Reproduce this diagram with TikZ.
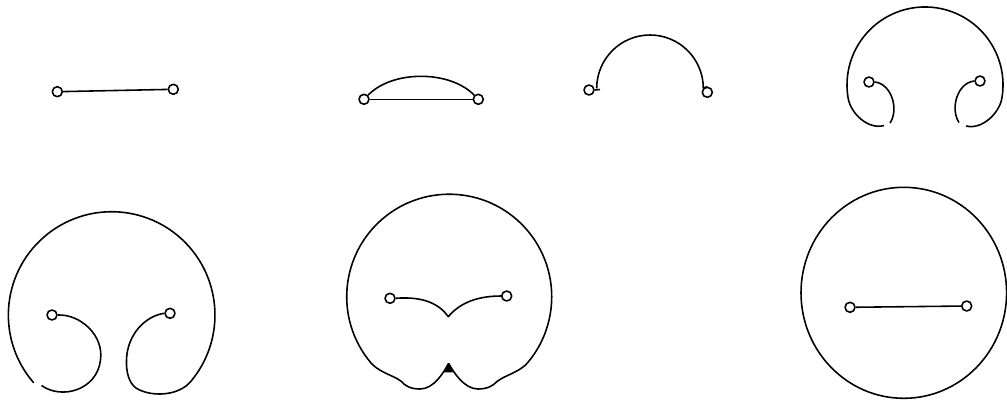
\documentclass[tikz,border=0pt]{standalone}
\usepackage{tikz}
\usetikzlibrary{calc,positioning}
\tikzset{endpt/.style={circle,draw,fill=white,minimum size=0.2cm,inner sep=0pt}}
\begin{document}
\begin{tikzpicture}[x=0.02cm,y=-0.02cm,line width=0.9pt,line join=round]
\useasboundingbox (0,0) rectangle (1007,403);
% first row
\node[endpt] (A1) at (57.3,91.7) {};
\node[endpt] (B1) at (173.3,89.3) {};
\draw (A1) -- (B1);
\node[endpt] (A2) at (364,99.3) {};
\node[endpt] (B2) at (478.3,99.3) {};
\draw (A2) -- (B2);
\draw (A2.north east) .. controls (392,70) and (450,70) .. (B2.north west);
\node[endpt] (A3) at (589,90) {};
\node[endpt] (B3) at (707.3,92.3) {};
\draw (A3.east) -- (600,89.5);
\draw (596.7,88.3) arc[start angle=180,end angle=360,radius=53.3] -- (B3.north);
\node[endpt] (A4) at (869,82) {};
\node[endpt] (B4) at (980,81) {};
\draw (884,125.5) .. controls (868,130) and (850.8,113.3) .. (848.2,98.5)
  arc[start angle=170,end angle=370,radius=78] .. controls (999.2,113.3) and (982,130) .. (966,126);
\draw (A4.east) .. controls (892,84) and (899,110) .. (890,123);
\draw (B4.west) .. controls (957,83) and (950,109) .. (959,122.5);
% second row
\node[endpt] (A5) at (52,315) {};
\node[endpt] (B5) at (170,313.3) {};
\draw (33.7,382.8) arc[start angle=139,end angle=400,radius=103.3]
  .. controls (178,396.7) and (150,397) .. (136,388)
  .. controls (129,383) and (126,372) .. (126.5,360) .. controls (127,335) and (145,316) .. (B5.west);
\draw (41.5,385.5) .. controls (62,400) and (97,390) .. (100.5,360) .. controls (104,335) and (80,314) .. (A5.east);
\node[endpt] (A6) at (390,298.3) {};
\node[endpt] (B6) at (506.7,296) {};
\coordinate (V6) at (448.3,316.7);
\coordinate (W6) at (448.6,363.3);
\draw (A6.east) .. controls (425,296) and (440,305) .. (V6) .. controls (458,305) and (474,296) .. (B6.west);
\draw (W6) .. controls (444,372) and (434,389) .. (420,389) .. controls (411,389) and (405,386) .. (401.5,381.5)
  -- (397,378.5) .. controls (388,374) and (377.1,370.3) .. (370.7,362.6)
  arc[start angle=140,end angle=400,radius=102.5]
  .. controls (521.3,370.3) and (510,374) .. (501.5,378.5) -- (497,381.5)
  .. controls (493,386) and (487,389) .. (478,389) .. controls (464,389) and (453.5,372) .. (W6);
\fill (W6) -- ($(W6)+(-4.5,9)$) -- ($(W6)+(4.5,9)$) -- cycle;
\node[endpt] (A7) at (850,307.3) {};
\node[endpt] (B7) at (966.7,306) {};
\draw (A7) -- (B7);
\draw (903.8,292.8) circle[x radius=102.8,y radius=105.5];
\end{tikzpicture}
\end{document}
